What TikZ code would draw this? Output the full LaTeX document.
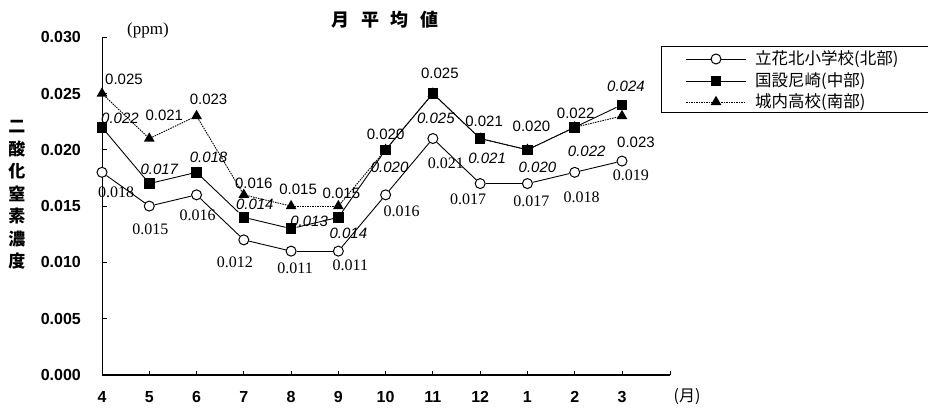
\documentclass[tikz,border=0pt]{standalone}
\usepackage{fontspec}
\setmainfont{Liberation Serif}
\setsansfont{Liberation Sans}
\newfontfamily\jpfont{Noto Sans CJK JP}
\usetikzlibrary{shapes.geometric,calc}
\pgfdeclarelayer{bg}
\pgfsetlayers{bg,main}

\tikzset{
  circmark/.style={circle, draw, fill=white, line width=1pt, minimum size=10pt, inner sep=0pt},
  sqmark/.style={rectangle, fill=black, minimum size=10.5pt, inner sep=0pt},
  trimark/.style={regular polygon, regular polygon sides=3, fill=black, minimum size=12.5pt, inner sep=0pt},
  cline/.style={line width=0.9pt},
  tline/.style={line width=0.9pt, dash pattern=on 1.5pt off 1pt},
  clabel/.style={inner sep=0pt, font=\fontsize{16}{16}\selectfont\rmfamily},
  slabel/.style={inner sep=0pt, font=\fontsize{15}{15}\selectfont\sffamily\itshape},
  tlabel/.style={inner sep=0pt, font=\fontsize{15}{15}\selectfont\sffamily},
  ticklabel/.style={inner sep=0pt, font=\fontsize{16}{16}\selectfont\sffamily\bfseries},
  legendtext/.style={inner sep=0pt, anchor=west, font=\fontsize{16.5}{16.5}\selectfont\jpfont},
}

\begin{document}
\begin{tikzpicture}[x=1pt, y=-1pt]
        \useasboundingbox (0,0) rectangle (928,414);

        % title, unit, axis name
        \node (title) [inner sep=0pt, font=\fontsize{18}{18}\selectfont\jpfont\bfseries] at (385,20) {月\hspace{0.65em}平\hspace{0.65em}均\hspace{0.65em}値};
        \node (unit) [inner sep=0pt, font=\fontsize{17}{17}\selectfont\rmfamily] at (148,30) {(ppm)};
        \node (yname) [inner sep=0pt, align=center, font=\fontsize{17}{22.5}\selectfont\jpfont\bfseries] at (17,195) {二\\酸\\化\\窒\\素\\濃\\度};
        \node (xunit) [inner sep=0pt, font=\fontsize{16}{16}\selectfont\jpfont] at (687,397) {(月)};

        % axes
        \coordinate (o) at (102,375);
        \coordinate (ytop) at (102,37);
        \coordinate (xend) at (670,375);
        \draw [line width=1pt] (ytop) -- (o);
        \draw [line width=1.6pt] (o) -- (xend);
        \foreach \v/\t in {0/0.000, 5/0.005, 10/0.010, 15/0.015, 20/0.020, 25/0.025, 30/0.030} {
                \draw [line width=0.8pt] (102,{375-11.26*\v}) -- ++(5,0);
                \node (yt\v) [ticklabel, anchor=east] at (81,{375-11.26*\v}) {\t};
        }
        \foreach \m [count=\i from 0] in {4,5,6,7,8,9,10,11,12,1,2,3} {
                \draw [line width=0.8pt] ({102+47.27*\i},375) -- ++(0,-4);
                \node (m\i) [ticklabel] at ({102+47.27*\i},397) {\m};
        }
        \draw [line width=0.8pt] (xend) -- ++(0,-4);

        % 城内高校 (南部)
        \foreach \i/\v/\dx/\dy [count=\n] in {0/25/22/-14, 1/21/15/-23, 2/23/12/-17, 3/16/10/-12, 4/15/7/-17, 5/15/3/-13,
                6/20/0/-15, 7/25/7/-20, 8/21/4/-17, 9/20/4/-23, 10/22/1/-14, 11/23/14/26} {
                \node (t\n) [trimark] at ({102+47.27*\i},{375-11.26*\v}) {};
                \node (tl\n) [tlabel] at ($(t\n)+(\dx,\dy)$) {0.0\v};
        }
        % 国設尼崎 (中部)
        \foreach \i/\v/\dx/\dy [count=\n] in {0/22/18/-9, 1/17/10/-14, 2/18/12/-15, 3/14/11/-13, 4/13/18/-7, 5/14/10/16,
                6/20/4/18, 7/25/3/25, 8/21/7/20, 9/20/10/18, 10/22/12/24, 11/24/4/-18} {
                \node (s\n) [sqmark] at ({102+47.27*\i},{375-11.26*\v}) {};
                \node (sl\n) [slabel] at ($(s\n)+(\dx,\dy)$) {0.0\v};
        }
        % 立花北小学校 (北部)
        \foreach \i/\v/\dx/\dy [count=\n] in {0/18/14/20, 1/15/1/23, 2/16/1/20, 3/12/-9/22, 4/11/4/17, 5/11/12/14,
                6/16/16/16, 7/21/13/25, 8/17/-12/16, 9/17/4/18, 10/18/7/25, 11/19/9/14} {
                \node (c\n) [circmark] at ({102+47.27*\i},{375-11.26*\v}) {};
                \node (cl\n) [clabel] at ($(c\n)+(\dx,\dy)$) {0.0\v};
        }

        % legend
        \draw [line width=1pt] (661,47) rectangle (940,113);
        \node (lgc) [circmark] at (716,59) {};
        \node (lgs) [sqmark] at (716,81) {};
        \node (lgt) [trimark] at (716,102) {};
        \node (lgct) [legendtext] at (755,59) {立花北小学校(北部)};
        \node (lgst) [legendtext] at (755,81) {国設尼崎(中部)};
        \node (lgtt) [legendtext] at (755,102) {城内高校(南部)};

        \begin{pgfonlayer}{bg}
                \foreach \n [remember=\n as \p (initially 1)] in {2,...,12} {
                        \draw [tline] (t\p) -- (t\n);
                        \draw [cline] (s\p) -- (s\n);
                        \draw [cline] (c\p) -- (c\n);
                }
                \draw [cline] (686,59) -- (746,59);
                \draw [cline] (686,81) -- (746,81);
                \draw [tline] (686,102) -- (746,102);
        \end{pgfonlayer}
\end{tikzpicture}
\end{document}
